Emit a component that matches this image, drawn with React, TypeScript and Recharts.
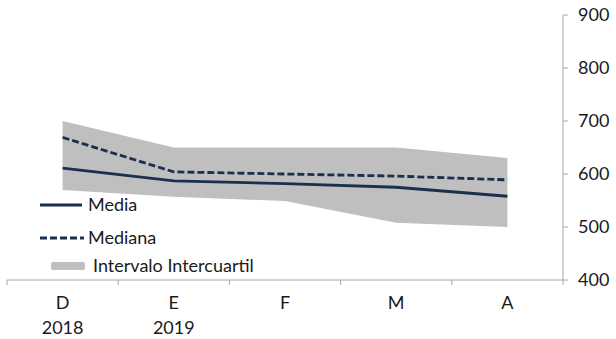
import { Area, ComposedChart, Line, XAxis, YAxis } from "recharts";

const meses = ["D", "E", "F", "M", "A"];
const anios = ["2018", "2019", "", "", ""];
const media = [611, 587, 582, 575, 558];
const mediana = [669, 604, 600, 596, 589];
const q1 = [570, 557, 549, 508, 500];
const q3 = [700, 650, 650, 650, 630];
const yTicks = [400, 500, 600, 700, 800, 900];

const data = meses.map((mes, i) => ({
  mes,
  anio: anios[i],
  media: media[i],
  mediana: mediana[i],
  rango: [q1[i], q3[i]],
}));

const W = 616;
const H = 339;
const margin = { top: 15, right: 0, bottom: 0, left: 7 };
const yAxisWidth = 53;
const band = (W - margin.left - margin.right - yAxisWidth) / meses.length;

const NAVY = "#1b2f4f";
const GRIS = "#bfbfbf";
const EJE = "#a6a6a6";
const FONT = "Lato, 'Open Sans', sans-serif";

const MesTick = (props: any) => {
  const { x, y, payload, index } = props;
  const left = x - band / 2;
  const isLast = index === meses.length - 1;
  return (
    <g>
      <line x1={left} x2={left} y1={y} y2={y + 5} stroke={EJE} />
      {isLast && <line x1={left + band} x2={left + band} y1={y} y2={y + 5} stroke={EJE} />}
      <text x={x} y={y + 29} textAnchor="middle" fontSize={18} fill="#1a1a1a" fontFamily={FONT}>
        {payload.value}
      </text>
      <text x={x} y={y + 54} textAnchor="middle" fontSize={18} fill="#1a1a1a" fontFamily={FONT}>
        {anios[index]}
      </text>
    </g>
  );
};

// leyenda dentro del área del gráfico, abajo a la izquierda
const Leyenda = () => (
  <svg width={260} height={90} style={{ position: "absolute", left: 40, top: 192 }}>
    <line x1={0} x2={42} y1={13} y2={13} stroke={NAVY} strokeWidth={2.8} />
    <text x={48} y={19} fontSize={18} fill="#1a1a1a" fontFamily={FONT}>Media</text>
    <line x1={0} x2={44} y1={46} y2={46} stroke={NAVY} strokeWidth={2.8} strokeDasharray="7 3" />
    <text x={48} y={52} fontSize={18} fill="#1a1a1a" fontFamily={FONT}>Mediana</text>
    <rect x={11} y={70} width={34} height={8} rx={2} fill={GRIS} />
    <text x={53} y={80} fontSize={18} fill="#1a1a1a" fontFamily={FONT}>Intervalo Intercuartil</text>
  </svg>
);

export default function App() {
  return (
    <div style={{ position: "absolute", left: 0, top: 0, width: W, height: H, background: "#fff" }}>
      <ComposedChart width={W} height={H} data={data} margin={margin}>
        <XAxis
          dataKey="mes"
          scale="band"
          height={59}
          axisLine={{ stroke: EJE }}
          tickLine={false}
          tickSize={0}
          tickMargin={0}
          interval={0}
          tick={<MesTick />}
        />
        <YAxis
          orientation="right"
          width={yAxisWidth}
          domain={[400, 900]}
          ticks={yTicks}
          axisLine={{ stroke: EJE }}
          tickLine={{ stroke: EJE }}
          tickSize={5}
          tickMargin={10}
          tick={{ fontSize: 18, fill: "#1a1a1a", fontFamily: FONT }}
        />
        <Area
          dataKey="rango"
          name="Intervalo Intercuartil"
          fill={GRIS}
          fillOpacity={1}
          stroke="none"
          isAnimationActive={false}
        />
        <Line
          dataKey="media"
          name="Media"
          stroke={NAVY}
          strokeWidth={2.8}
          dot={false}
          isAnimationActive={false}
        />
        <Line
          dataKey="mediana"
          name="Mediana"
          stroke={NAVY}
          strokeWidth={2.8}
          strokeDasharray="7 3"
          dot={false}
          isAnimationActive={false}
        />
      </ComposedChart>
      <Leyenda />
    </div>
  );
}
